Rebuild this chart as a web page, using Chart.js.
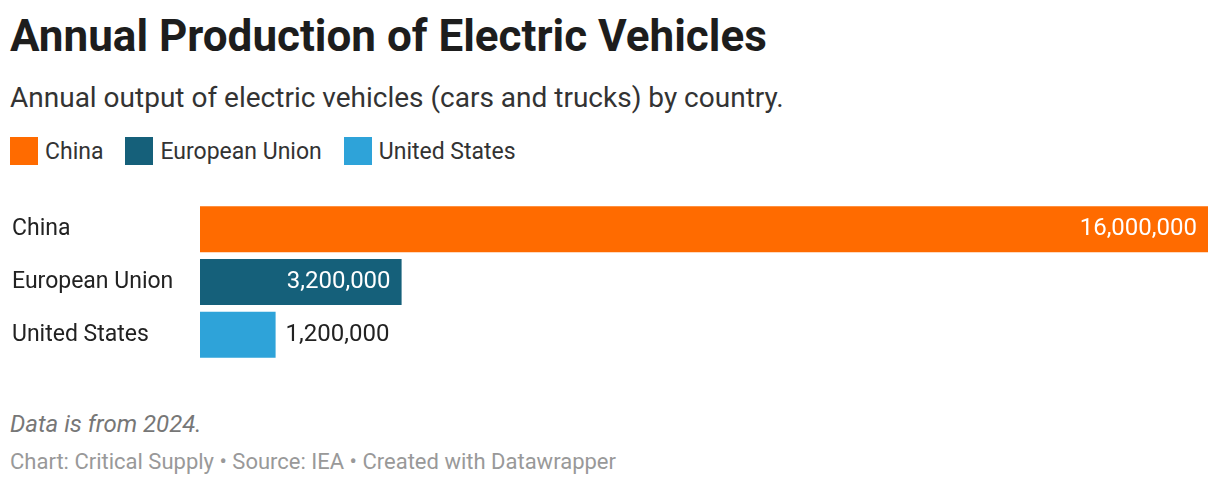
<!DOCTYPE html>
<html>
<head>
<meta charset="utf-8">
<script src="https://cdn.jsdelivr.net/npm/chart.js@4"></script>
<style>
  body { margin: 0; width: 1220px; height: 486px; background: #fff; font-family: Roboto, sans-serif; position: relative; overflow: hidden; }
  h1 { position: absolute; left: 10px; top: 10px; margin: 0; font-size: 44px; font-weight: 700; color: #1d1d1d; }
  .sub { position: absolute; left: 10px; top: 81px; font-size: 28px; color: #333; }
  .legend { position: absolute; left: 10px; top: 137px; display: flex; font-size: 23px; color: #333; }
  .legend span { display: flex; align-items: center; margin-right: 22px; }
  .legend i { display: inline-block; width: 28px; height: 28px; margin-right: 7px; }
  #chart { position: absolute; left: 0; top: 189px; }
  .note { position: absolute; left: 10px; top: 410px; font-size: 24px; font-style: italic; color: #777; }
  .src { position: absolute; left: 10px; top: 449px; font-size: 22px; color: #999; }
</style>
</head>
<body>
<h1>Annual Production of Electric Vehicles</h1>
<div class="sub">Annual output of electric vehicles (cars and trucks) by country.</div>
<div class="legend" id="legend"></div>
<canvas id="chart" width="1220" height="186"></canvas>
<div class="note">Data is from 2024.</div>
<div class="src">Chart: Critical Supply • Source: IEA • Created with Datawrapper</div>
<script>
const countries = ["China", "European Union", "United States"];
const production = [16000000, 3200000, 1200000];
const colors = ["#ff6b00", "#15607a", "#2ea3d9"];

let legend = document.getElementById("legend");
for (let i = 0; i < countries.length; i++) {
	legend.innerHTML += `<span><i style="background:${colors[i]}"></i>${countries[i]}</span>`;
}

const valueLabels = {
	id: "valueLabels",
	afterDatasetsDraw(chart) {
		const { ctx } = chart;
		ctx.save();
		ctx.font = "24px Roboto";
		ctx.textBaseline = "middle";
		chart.getDatasetMeta(0).data.forEach((bar, i) => {
			const text = production[i].toLocaleString("en-US");
			const w = ctx.measureText(text).width;
			if (bar.x - bar.base > w + 20) {
				ctx.fillStyle = "#fff";
				ctx.textAlign = "right";
				ctx.fillText(text, bar.x - 11, bar.y);
			} else {
				ctx.fillStyle = "#222";
				ctx.textAlign = "left";
				ctx.fillText(text, bar.x + 10, bar.y);
			}
		});
		ctx.restore();
	},
};

new Chart(document.getElementById("chart"), {
	type: "bar",
	data: {
		labels: countries,
		datasets: [{ data: production, backgroundColor: colors, barPercentage: 0.87, categoryPercentage: 1 }],
	},
	options: {
		indexAxis: "y",
		responsive: false,
		animation: false,
		layout: { padding: { left: 12, right: 12, top: 0, bottom: 0 } },
		plugins: { legend: { display: false }, tooltip: { enabled: false } },
		scales: {
			x: { display: false, min: 0, max: 16000000 },
			y: {
				grid: { display: false },
				border: { display: false },
				ticks: { crossAlign: "far", color: "#222", font: { family: "Roboto", size: 23 }, padding: 0 },
				afterFit(scale) { scale.width = 188; },
			},
		},
	},
	plugins: [valueLabels],
});
</script>
</body>
</html>
